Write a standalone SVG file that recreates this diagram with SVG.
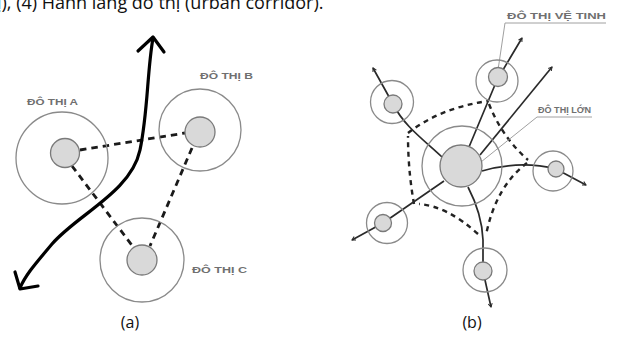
<svg xmlns="http://www.w3.org/2000/svg" width="617" height="337" viewBox="0 0 617 337">
<style>
.bg{fill:#ffffff}
.ring{fill:none;stroke:#8a8a8a;stroke-width:1.3}
.core{fill:#d9d9d9;stroke:#7a7a7a;stroke-width:1.3}
.dash{fill:none;stroke:#1a1a1a;stroke-width:2.8;stroke-dasharray:6.5 5}
.dashb{fill:none;stroke:#222;stroke-width:2.4;stroke-dasharray:5 4.5}
.corr{fill:none;stroke:#000;stroke-width:3.2;stroke-linecap:round;stroke-linejoin:round}
.link{fill:none;stroke:#2a2a2a;stroke-width:1.7;stroke-linejoin:round}
.leader{fill:none;stroke:#a0a0a0;stroke-width:1}
.lbl{font-family:"Liberation Sans",Arial,sans-serif;font-size:8.5px;font-weight:bold;fill:#707070}
.cap{font-family:"Open Sans","Noto Sans",sans-serif;font-size:16px;fill:#111}
.top{font-family:"Open Sans","Noto Sans",sans-serif;font-size:18px;fill:#111}
</style>
<defs>
<marker id="ah" viewBox="0 0 10 10" refX="8" refY="5" markerWidth="5" markerHeight="5" orient="auto" markerUnits="userSpaceOnUse">
<path d="M1,1 L8,5 L1,9" fill="none" stroke="#2a2a2a" stroke-width="2"/>
</marker>
</defs>
<rect class="bg" x="0" y="0" width="617" height="337"/>
<text class="top" x="-3" y="9">ị), (4) Hành lang đô thị (urban corridor).</text>

<g id="connectors">
<!-- (a) dashed links -->
<path class="dash" d="M80,150 L185,133"/>
<path class="dash" d="M72,166 L134,248"/>
<path class="dash" d="M192,148 L150,246"/>
<!-- (b) dashed star -->
<path class="dashb" d="M408,133 Q440,108 488,101"/>
<path class="dashb" d="M489,104 Q502,137 528,160"/>
<path class="dashb" d="M527,163 Q496,186 486,235"/>
<path class="dashb" d="M478,234 Q447,206 419,204"/>
<path class="dashb" d="M414,204 Q408,170 408,136"/>
<!-- (b) solid links with arrows -->
<path class="link" marker-end="url(#ah)" d="M442,157 C424,140 404,126 393,104 L373,68"/>
<path class="link" marker-end="url(#ah)" d="M469,147 L497,80 L522,38"/>
<path class="link" marker-end="url(#ah)" d="M480,155 L552,67"/>
<path class="link" marker-end="url(#ah)" d="M482,171 Q520,160 556,169 L586,185"/>
<path class="link" marker-end="url(#ah)" d="M444,181 L383,223 L352,240"/>
<path class="link" marker-end="url(#ah)" d="M468,187 Q482,214 483,240 L483,271 L491,307"/>
<!-- (a) corridor -->
<path class="corr" d="M153,38 C147,72 148,112 140,150 C131,192 78,214 52,244 C37,262 26,274 20,288"/>
<path class="corr" d="M138,51 L153,37 L164,52"/>
<path class="corr" d="M15,272 L20,289 L38,286"/>
<!-- leaders -->
<path class="leader" d="M505,23 L606,23"/>
<path class="leader" d="M505,23 L498,70"/>
<path class="leader" d="M537,117 L592,117"/>
<path class="leader" d="M537,117 L476,166"/>
</g>

<g id="city-a">
<circle class="ring" cx="62" cy="158" r="46"/>
<circle class="core" cx="65" cy="153" r="14.5"/>
<text class="lbl" x="27" y="105" textLength="51" lengthAdjust="spacingAndGlyphs">ĐÔ THỊ A</text>
</g>
<g id="city-b">
<circle class="ring" cx="200" cy="130" r="41"/>
<circle class="core" cx="200" cy="132" r="15"/>
<text class="lbl" x="200" y="79" textLength="53" lengthAdjust="spacingAndGlyphs">ĐÔ THỊ B</text>
</g>
<g id="city-c">
<circle class="ring" cx="142" cy="260" r="42"/>
<circle class="core" cx="142" cy="260" r="15"/>
<text class="lbl" x="192" y="273" textLength="55" lengthAdjust="spacingAndGlyphs">ĐÔ THỊ C</text>
</g>
<text class="cap" x="130" y="328" text-anchor="middle">(a)</text>

<g id="big-city">
<circle class="ring" cx="462" cy="166" r="40"/>
<circle class="core" cx="461" cy="166" r="21"/>
<text class="lbl" x="538" y="113" textLength="53" lengthAdjust="spacingAndGlyphs">ĐÔ THỊ LỚN</text>
</g>
<g id="sat-1">
<circle class="ring" cx="392" cy="102" r="21.5"/>
<circle class="core" cx="393" cy="104" r="9"/>
</g>
<g id="sat-2">
<circle class="ring" cx="497" cy="81" r="21"/>
<circle class="core" cx="498" cy="77" r="9.5"/>
<text class="lbl" x="507" y="19" textLength="99" lengthAdjust="spacingAndGlyphs">ĐÔ THỊ VỆ TINH</text>
</g>
<g id="sat-3">
<circle class="ring" cx="553" cy="171" r="20"/>
<circle class="core" cx="556" cy="169" r="8"/>
</g>
<g id="sat-4">
<circle class="ring" cx="387" cy="223" r="20.5"/>
<circle class="core" cx="383" cy="223" r="8.5"/>
</g>
<g id="sat-5">
<circle class="ring" cx="485" cy="270" r="22"/>
<circle class="core" cx="483" cy="271" r="9"/>
</g>
<text class="cap" x="472" y="328" text-anchor="middle">(b)</text>
</svg>
